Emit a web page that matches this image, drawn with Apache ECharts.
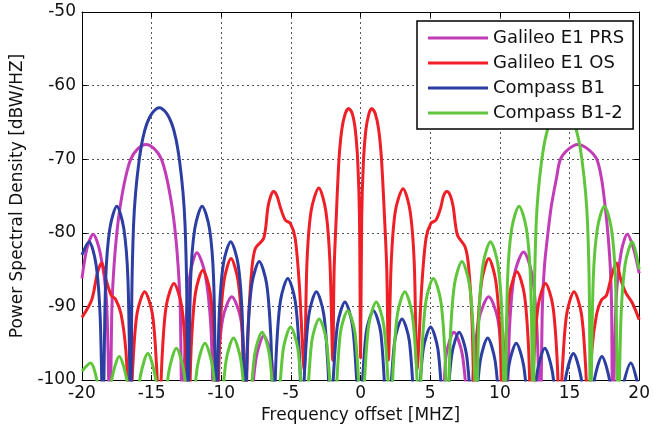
<!DOCTYPE html>
<html><head><meta charset="utf-8">
<script src="https://cdn.jsdelivr.net/npm/echarts@6/dist/echarts.min.js"></script>
<style>html,body{margin:0;padding:0;background:#fff}#c{width:653px;height:439px}</style>
</head><body><div id="c"></div>
<script>
// Series names
const seriesNames = ['Galileo E1 PRS', 'Galileo E1 OS', 'Compass B1', 'Compass B1-2'];
const seriesColors = ['#c13cb6', '#ee1f26', '#2c3ea2', '#5fc63c'];

// Galileo E1 PRS
const prsFreq = [
  -20, -19.65, -19.2, -18.7, -18.25, -18.0,
  -17.85, -17.7, -17.5, -17.25, -16.9, -16.5, -16.0, -15.4, -14.8, -14.3, -13.9, -13.55, -13.3, -13.1, -12.95, -12.8,
  -12.55, -12.25, -11.75, -11.15, -10.75, -10.5,
  -10.25, -9.9, -9.25, -8.6, -8.3, -8.05,
  -7.5, -6.95, -6.4, -5.85,
  5.6, 6.15, 6.7, 7.3, 7.85,
  8.1, 8.5, 9.2, 9.85, 10.2, 10.45,
  10.7, 11.05, 11.7, 12.3, 12.65, 12.9,
  13.05, 13.2, 13.45, 13.7, 14.05, 14.35, 14.95, 15.6, 16.3, 16.95, 17.3, 17.55, 17.75, 17.92, 18.02, 18.1,
  18.35, 18.7, 19.15, 19.6, 20];
const prsPsd = [
  -86.2, -82.2, -80.2, -82.7, -89, -106,
  -90, -84.5, -80, -76.3, -72.7, -70, -68.6, -68, -68.6, -70, -72.7, -76.3, -80, -84.5, -90, -106,
  -92.7, -85.7, -82.7, -85.7, -92.7, -106,
  -98.7, -91.7, -88.7, -91.7, -98.7, -106,
  -97, -94, -97, -106,
  -106, -96.5, -93.5, -96.5, -106,
  -98.7, -91.7, -88.7, -91.7, -98.7, -106,
  -92.6, -85.6, -82.6, -85.6, -92.6, -106,
  -90, -84.5, -80, -76.3, -72.7, -70, -68.6, -68, -68.6, -70, -72.7, -76.3, -80, -84.5, -90, -106,
  -89, -82.7, -80.2, -82.2, -85.5];

// Galileo E1 OS
const osFreq = [
  -20, -19.3, -18.9, -18.6, -18.25, -17.9, -17.6, -17.2, -16.85, -16.55,
  -16.35, -16.05, -15.5, -14.95, -14.65, -14.45,
  -14.25, -13.95, -13.4, -12.85, -12.55, -12.35,
  -12.15, -11.85, -11.325, -10.8, -10.5, -10.3,
  -10.1, -9.8, -9.3, -8.8, -8.5, -8.3,
  -8.05, -7.8, -7.55, -6.95, -6.65, -6.45, -6.25, -6.0, -5.75, -5.4, -5.05, -4.7, -4.4, -4.05,
  -3.85, -3.55, -3.0, -2.5, -2.2, -2.0,
  -1.9, -1.75, -1.55, -1.35, -1.1, -0.85, -0.6, -0.38, -0.2, -0.08, 0,
  0.08, 0.2, 0.38, 0.6, 0.8, 1.05, 1.3, 1.5, 1.72, 1.88, 2.0,
  2.2, 2.5, 3.05, 3.55, 3.85, 4.05,
  4.4, 4.7, 5.05, 5.4, 5.75, 5.95, 6.2, 6.45, 6.65, 6.95, 7.5, 7.75, 8.0, 8.2,
  8.4, 8.7, 9.2, 9.7, 10.0, 10.2,
  10.4, 10.7, 11.225, 11.75, 12.05, 12.25,
  12.45, 12.75, 13.275, 13.8, 14.1, 14.3,
  14.5, 14.8, 15.325, 15.85, 16.15, 16.35,
  16.6, 16.95, 17.3, 17.65, 18.0, 18.35, 18.7, 19.05, 19.5, 20];
const osPsd = [
  -91.5, -89.1, -85.5, -84.1, -86.5, -88.5, -89.0, -91, -96, -106,
  -98, -91, -88, -91, -98, -106,
  -96.9, -89.9, -86.9, -89.9, -96.9, -106,
  -95.1, -88.1, -85.1, -88.1, -95.1, -106,
  -93.5, -86.5, -83.5, -86.5, -93.5, -106,
  -92, -84.8, -82.1, -80.7, -76.5, -75.0, -74.4, -75.0, -76.6, -78.3, -78.7, -80.7, -87, -98.6,
  -84, -77, -73.9, -77, -84, -97.3,
  -85, -78, -70, -66, -63.8, -63.1, -63.8, -66, -70.5, -78, -97,
  -78, -70.5, -66, -63.8, -63.1, -63.8, -66, -70, -78, -85, -97.3,
  -84, -77, -74, -77, -84, -98.6,
  -87, -80.7, -78.7, -78.3, -76.6, -75.0, -74.4, -75.0, -76.5, -80.3, -81.9, -84.5, -92, -106,
  -93.5, -86.5, -83.5, -86.5, -93.5, -106,
  -95.3, -88.3, -85.3, -88.3, -95.3, -106,
  -96.9, -89.9, -86.9, -89.9, -96.9, -106,
  -98, -91, -88, -91, -98, -106,
  -96, -91, -89.1, -88.5, -86, -84.1, -86.5, -88.2, -89.5, -91.8];

// Compass B1
const b1Freq = [
  -20, -19.5, -19.0, -18.7, -18.5,
  -18.3, -18.0, -17.5, -17.0, -16.7, -16.5,
  -16.42, -16.3, -16.15, -15.9, -15.65, -15.35, -14.95, -14.45, -13.95, -13.55, -13.25, -13.0, -12.75, -12.6, -12.48, -12.4,
  -12.2, -11.9, -11.375, -10.85, -10.55, -10.35,
  -10.15, -9.85, -9.325, -8.8, -8.5, -8.3,
  -8.1, -7.8, -7.275, -6.75, -6.45, -6.25,
  -6.05, -5.75, -5.225, -4.7, -4.4, -4.2,
  -4.0, -3.7, -3.175, -2.65, -2.35, -2.15,
  -1.95, -1.65, -1.125, -0.6, -0.3, -0.1,
  0.4, 0.925, 1.45, 1.95,
  2.45, 2.975, 3.5, 4.0,
  4.5, 5.025, 5.55, 6.05,
  6.55, 7.075, 7.6, 8.1,
  8.6, 9.125, 9.65, 10.15,
  10.65, 11.175, 11.7, 12.2,
  12.7, 13.225, 13.75, 14.25,
  14.75, 15.275, 15.8, 16.3,
  16.8, 17.325, 17.85, 18.35,
  18.85, 19.4, 20];
const b1Psd = [
  -83.0, -81.2, -84.2, -91.2, -106,
  -86.4, -79.4, -76.4, -79.4, -86.4, -106,
  -88, -79, -74.5, -70.2, -67.3, -65.2, -63.7, -63, -63.7, -65.2, -67.3, -70.2, -74.5, -79, -88, -106,
  -86.4, -79.4, -76.4, -79.4, -86.4, -106,
  -91.2, -84.2, -81.2, -84.2, -91.2, -106,
  -93.9, -86.9, -83.9, -86.9, -93.9, -106,
  -96.2, -89.2, -86.2, -89.2, -96.2, -106,
  -98, -91, -88, -91, -98, -106,
  -99.4, -92.4, -89.4, -92.4, -99.4, -106,
  -93.6, -90.6, -93.6, -106,
  -94.7, -91.7, -94.7, -106,
  -95.8, -92.8, -95.8, -106,
  -96.5, -93.5, -96.5, -106,
  -97.3, -94.3, -97.3, -106,
  -98, -95, -98, -106,
  -98.7, -95.7, -98.7, -106,
  -99.4, -96.4, -99.4, -106,
  -99.8, -96.8, -99.8, -106,
  -100.7, -97.7, -101.5];

// Compass B1-2
const b2Freq = [
  -20, -19.4, -18.85, -18.35,
  -17.85, -17.325, -16.8, -16.3,
  -15.8, -15.275, -14.75, -14.25,
  -13.75, -13.225, -12.7, -12.2,
  -11.7, -11.175, -10.65, -10.15,
  -9.65, -9.125, -8.6, -8.1,
  -7.6, -7.075, -6.55, -6.05,
  -5.55, -5.025, -4.5, -4.0,
  -3.5, -2.975, -2.45, -1.95,
  -1.45, -0.925, -0.4, 0.1,
  0.3, 0.6, 1.125, 1.65, 1.95, 2.15,
  2.35, 2.65, 3.175, 3.7, 4.0, 4.2,
  4.4, 4.7, 5.225, 5.75, 6.05, 6.25,
  6.45, 6.75, 7.275, 7.8, 8.1, 8.3,
  8.5, 8.8, 9.325, 9.85, 10.15, 10.35,
  10.55, 10.85, 11.375, 11.9, 12.2, 12.4,
  12.48, 12.6, 12.75, 13.0, 13.25, 13.55, 13.95, 14.45, 14.95, 15.35, 15.65, 15.9, 16.15, 16.3, 16.42, 16.5,
  16.7, 17.0, 17.5, 18.0, 18.3, 18.5,
  18.7, 19.0, 19.5, 20];
const b2Psd = [
  -98.8, -97.7, -100.7, -106,
  -99.8, -96.8, -99.8, -106,
  -99.4, -96.4, -99.4, -106,
  -98.7, -95.7, -98.7, -106,
  -98, -95, -98, -106,
  -97.3, -94.3, -97.3, -106,
  -96.5, -93.5, -96.5, -106,
  -95.8, -92.8, -95.8, -106,
  -94.7, -91.7, -94.7, -106,
  -93.6, -90.6, -93.6, -106,
  -99.4, -92.4, -89.4, -92.4, -99.4, -106,
  -98, -91, -88, -91, -98, -106,
  -96.2, -89.2, -86.2, -89.2, -96.2, -106,
  -93.9, -86.9, -83.9, -86.9, -93.9, -106,
  -91.2, -84.2, -81.2, -84.2, -91.2, -106,
  -86.4, -79.4, -76.4, -79.4, -86.4, -106,
  -88, -79, -74.5, -70.2, -67.3, -65.2, -63.7, -63, -63.7, -65.2, -67.3, -70.2, -74.5, -79, -88, -106,
  -86.4, -79.4, -76.4, -79.4, -86.4, -106,
  -91.2, -84.2, -81.2, -85];

const xMin = -20, xMax = 20, xStep = 5;
const yMin = -100, yMax = -50, yStep = 10;

const FONT = 'DejaVu Sans';
const pairs = (f, v) => f.map((x, i) => [x, v[i]]);
const allData = [pairs(prsFreq, prsPsd), pairs(osFreq, osPsd), pairs(b1Freq, b1Psd), pairs(b2Freq, b2Psd)];

const chart = echarts.init(document.getElementById('c'), null, {renderer: 'canvas'});
const gridLine = {show: true, lineStyle: {type: [2, 3], color: '#555', width: 1}};
const txt = {fontFamily: FONT, fontSize: 17, color: '#111'};
chart.setOption({
  animation: false,
  backgroundColor: '#fff',
  grid: {left: 82, right: 10, top: 12, bottom: 59},
  legend: {
    orient: 'vertical', left: 417, top: 21, padding: [8, 9, 7, 11],
    itemGap: 7, itemWidth: 60, itemHeight: 3, icon: 'rect',
    backgroundColor: '#fff', borderColor: '#000', borderWidth: 1.5,
    textStyle: {fontFamily: FONT, fontSize: 18, color: '#111', lineHeight: 18},
    data: seriesNames, z: 10
  },
  xAxis: [{
    type: 'value', min: xMin, max: xMax, interval: xStep, position: 'bottom',
    name: 'Frequency offset [MHZ]', nameLocation: 'middle', nameGap: 22, nameTextStyle: txt,
    axisLine: {show: true, onZero: false, lineStyle: {color: '#000', width: 1}},
    axisTick: {show: true, inside: true, length: 5, lineStyle: {color: '#000'}},
    axisLabel: Object.assign({margin: 5}, txt),
    splitLine: gridLine
  }, {
    type: 'value', min: xMin, max: xMax, interval: xStep, position: 'top',
    axisLine: {show: true, onZero: false, lineStyle: {color: '#000', width: 1}},
    axisTick: {show: true, inside: true, length: 5, lineStyle: {color: '#000'}},
    axisLabel: {show: false}, splitLine: {show: false}
  }],
  yAxis: [{
    type: 'value', min: yMin, max: yMax, interval: yStep, position: 'left',
    name: 'Power Spectral Density [dBW/HZ]', nameLocation: 'middle', nameGap: 56, nameTextStyle: txt,
    axisLine: {show: true, onZero: false, lineStyle: {color: '#000', width: 1}},
    axisTick: {show: true, inside: true, length: 5, lineStyle: {color: '#000'}},
    axisLabel: Object.assign({margin: 6}, txt),
    splitLine: gridLine
  }, {
    type: 'value', min: yMin, max: yMax, interval: yStep, position: 'right',
    axisLine: {show: true, onZero: false, lineStyle: {color: '#000', width: 1}},
    axisTick: {show: true, inside: true, length: 5, lineStyle: {color: '#000'}},
    axisLabel: {show: false}, splitLine: {show: false}
  }],
  series: seriesNames.map((n, i) => ({
    name: n, type: 'line', data: allData[i], xAxisIndex: 0, yAxisIndex: 0,
    symbol: 'none', smooth: 0.3, clip: true,
    color: seriesColors[i],
    lineStyle: {color: seriesColors[i], width: 3},
    emphasis: {disabled: true}
  }))
});
</script></body></html>
